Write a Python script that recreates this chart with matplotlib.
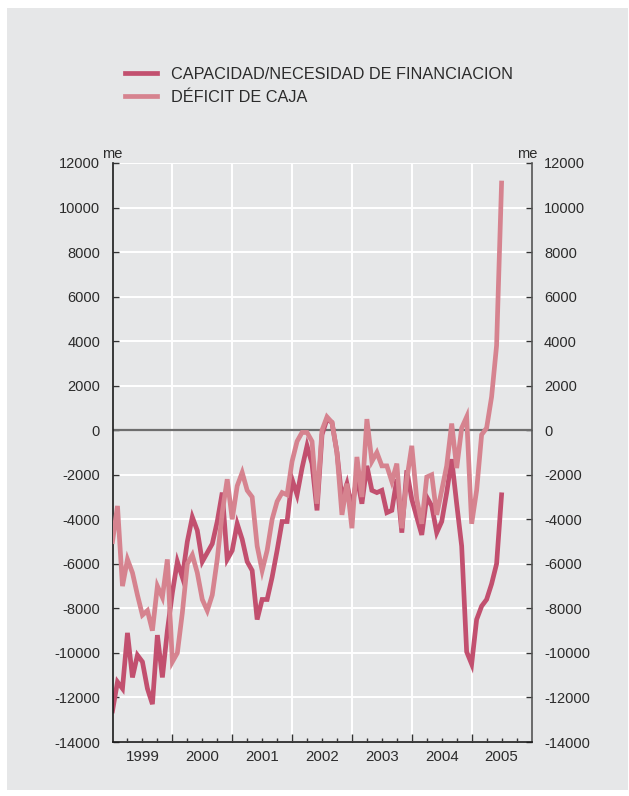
import matplotlib
matplotlib.use("Agg")
import matplotlib.pyplot as plt
from matplotlib.patches import Rectangle
import numpy as np

plt.rcParams['font.family'] = ['Liberation Sans', 'DejaVu Sans']
plt.rcParams['axes.unicode_minus'] = False

# Monthly series, January 1999 to July 2005 (millones de euros)
start_year = 1999
capacidad = [
    -12600, -11300, -11600, -9100, -11100, -10100, -10400, -11600, -12300, -9200, -11100, -9000,   # 1999
    -7300, -5900, -6600, -5000, -3900, -4500, -5900, -5500, -5100, -4100, -2800, -5800,           # 2000
    -5400, -4200, -4900, -5900, -6300, -8500, -7600, -7600, -6600, -5400, -4100, -4100,           # 2001
    -2200, -2900, -1700, -700, -1500, -3600, -200, 500, 350, -1000, -3100, -2400,                 # 2002
    -3500, -2100, -3300, -1600, -2700, -2800, -2700, -3700, -3600, -2200, -4600, -1800,           # 2003
    -3100, -3900, -4700, -3000, -3400, -4600, -4100, -2800, -1300, -3300, -5200, -9950,           # 2004
    -10500, -8500, -7900, -7600, -6900, -6000, -2900,                                             # 2005
]
deficit = [
    -5000, -3400, -7000, -5800, -6400, -7400, -8300, -8100, -9000, -7000, -7500, -5800,           # 1999
    -10400, -10000, -8200, -6000, -5600, -6400, -7600, -8100, -7400, -5800, -3700, -2200,         # 2000
    -4000, -2500, -1900, -2700, -3000, -5200, -6300, -5400, -4000, -3200, -2800, -2900,           # 2001
    -1400, -500, -100, -100, -500, -3300, 0, 600, 350, -1000, -3800, -2400,                       # 2002
    -4400, -1200, -3000, 500, -1400, -1000, -1600, -1600, -2300, -1500, -4400, -2200,             # 2003
    -700, -3100, -4200, -2100, -2000, -3800, -2700, -1600, 300, -1700, 100, 600,                  # 2004
    -4200, -2700, -200, 100, 1500, 3800, 11100,                                                   # 2005
]
series_labels = ["CAPACIDAD/NECESIDAD DE FINANCIACION", "DÉFICIT DE CAJA"]
years = [1999, 2000, 2001, 2002, 2003, 2004, 2005]
y_ticks = list(range(-14000, 12001, 2000))
unit_label = "me"

c_dark = "#c2506f"
c_light = "#d6838f"
bg = "#e6e7e8"
txt = "#2b2b2b"

t_cap = start_year + np.arange(len(capacidad)) / 12.0
t_def = start_year + np.arange(len(deficit)) / 12.0

fig = plt.figure(figsize=(6.29, 7.96), dpi=100, facecolor="white")
fig.patches.append(Rectangle((7 / 629, 6 / 796), 621 / 629, 782 / 796,
                             transform=fig.transFigure, facecolor=bg,
                             edgecolor="none", zorder=-10))

ax = fig.add_axes([112.5 / 629, 54 / 796, 419 / 629, 579 / 796])
ax.set_facecolor("none")

ax.set_xlim(years[0], years[-1] + 1)
ax.set_ylim(y_ticks[0], y_ticks[-1])

# grid
ax.set_yticks(y_ticks)
ax.set_yticklabels([str(v) for v in y_ticks])
ax.set_xticks(years[1:])
ax.set_xticklabels([""] * (len(years) - 1))
minor_pos, minor_lab = [], []
for y in years:
    for q, lab in ((0.25, ""), (0.5, str(y)), (0.75, "")):
        minor_pos.append(y + q)
        minor_lab.append(lab)
ax.set_xticks(minor_pos, labels=minor_lab, minor=True)

ax.grid(True, which="major", color="white", linewidth=1.4, zorder=0)
ax.set_axisbelow(True)

ax.axhline(0, color="#6e6e6e", linewidth=1.6, zorder=1)

ax.plot(t_def, deficit, color=c_light, linewidth=3.4, solid_joinstyle="miter",
        zorder=3, label=series_labels[1])
ax.plot(t_cap, capacidad, color=c_dark, linewidth=3.4, solid_joinstyle="miter",
        zorder=2, label=series_labels[0])

ax.spines["top"].set_visible(False)
ax.spines["left"].set_color("#1a1a1a")
ax.spines["bottom"].set_color("#1a1a1a")
ax.spines["right"].set_color("#555555")
for s in ("left", "bottom", "right"):
    ax.spines[s].set_linewidth(1.2)

ax.tick_params(axis="y", which="major", direction="in", length=4, width=1,
               left=True, right=True, labelleft=True, labelright=True,
               labelsize=10.5, labelcolor=txt, pad=9, color="#333333")
ax.tick_params(axis="x", which="major", direction="in", length=6, width=1,
               color="#333333", pad=6)
ax.tick_params(axis="x", which="minor", direction="in", length=3, width=1,
               color="#333333", labelsize=10.8, labelcolor=txt, pad=6)

ax.text(-0.024, 1.004, unit_label, transform=ax.transAxes, ha="left", va="bottom",
        fontsize=10.5, color=txt)
ax.text(1.015, 1.004, unit_label, transform=ax.transAxes, ha="right", va="bottom",
        fontsize=10.5, color=txt)

h_dark = plt.Line2D([], [], color=c_dark, linewidth=3.4)
h_light = plt.Line2D([], [], color=c_light, linewidth=3.4)
fig.legend([h_dark, h_light], series_labels, loc="upper left",
           bbox_to_anchor=(120 / 629, 1 - 62 / 796), frameon=False,
           fontsize=11.7, handlelength=2.0, handletextpad=0.86,
           labelspacing=0.5, labelcolor=txt, borderaxespad=0, borderpad=0.3)

fig.savefig("out.png", dpi=100, facecolor="white")
